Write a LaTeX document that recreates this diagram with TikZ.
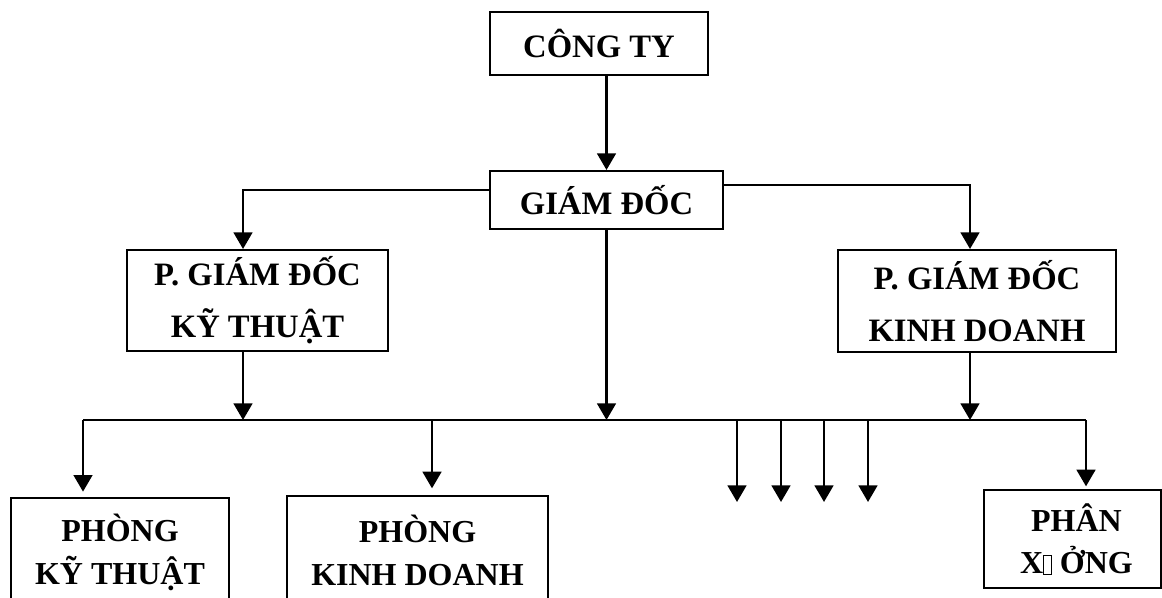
\documentclass[tikz,border=0pt]{standalone}
\usepackage{fontspec}
\setmainfont{Liberation Serif}
\usetikzlibrary{arrows.meta}
\newcommand{\tofu}{{\fboxsep=0pt\fboxrule=0.6pt\fbox{\rule{0pt}{0.55em}\hspace{0.22em}}}}

\begin{document}
\begin{tikzpicture}[x=0.75pt,y=-0.75pt]
	\tikzstyle{every node}=[font=\bfseries\fontsize{24.5}{39}\selectfont];
	\tikzstyle{unit}=[draw,rectangle,align=center,inner sep=0pt,line width=1.5pt];
	\tikzstyle{dept}=[unit,font=\bfseries\fontsize{24}{32}\selectfont];
	\tikzstyle{lnk}=[draw,line width=2pt,-{Triangle[width=14pt,length=12.5pt]}];
	\tikzstyle{bus}=[draw,line width=1.8pt];
	\path[use as bounding box,clip] (0,0) rectangle (1162,597);
	% boxes
	\node (cty) [unit,minimum width=163.5pt,minimum height=47.25pt] at (599,43.5) {CÔNG TY};
	\node (gd) [unit,minimum width=174.75pt,minimum height=43.5pt] at (606.5,200) {GIÁM ĐỐC};
	\node (pgkt) [unit,minimum width=195.75pt,minimum height=75.75pt] at (257.5,300.5) {P. GIÁM ĐỐC\\KỸ THUẬT};
	\node (pgkd) [unit,minimum width=208.5pt,minimum height=76.5pt] at (977,301) {P. GIÁM ĐỐC\\KINH DOANH};
	\node (pkt) [dept,minimum width=163.5pt,minimum height=81.75pt] at (120,552.5) {PHÒNG\\KỸ THUẬT};
	\node (pkd) [dept,minimum width=195.75pt,minimum height=81.75pt] at (417.5,550.5) {PHÒNG\\KINH DOANH};
	\node (px) [dept,minimum width=132.75pt,minimum height=73.5pt] at (1072.5,539) {\hspace*{6pt}PHÂN\\\hspace*{6pt}X\tofu\ ỞNG};
	% tap points
	\coordinate (lvlA) at (243,190);
	\coordinate (lvlB) at (970,185);
	\coordinate (busL) at (83,420);
	\coordinate (busR) at (1086,420);
	\coordinate (tapKD) at (432,420);
	% links
	\draw[lnk] (gd.north |- cty.south) -- (gd.north);
	\draw[lnk] (gd.west |- lvlA) -| (lvlA |- pgkt.north);
	\draw[lnk] (gd.east |- lvlB) -| (lvlB |- pgkd.north);
	\draw[lnk] (gd.south) -- (gd.south |- busL);
	\draw[lnk] (pgkt.south -| lvlA) -- (lvlA |- busL);
	\draw[lnk] (pgkd.south -| lvlB) -- (lvlB |- busL);
	\draw[bus] (busL) -- (busR);
	\draw[lnk,shorten >=4pt] (busL) -- (busL |- pkt.north);
	\draw[lnk,shorten >=5pt] (tapKD) -- (tapKD |- pkd.north);
	\draw[lnk,shorten >=2pt] (busR) -- (busR |- px.north);
	\foreach \x [count=\i] in {737,781,824,868}{
		\coordinate (tap\i) at (\x,420);
		\coordinate (end\i) at (\x,502);
		\draw[lnk] (tap\i) -- (end\i);
	}
\end{tikzpicture}
\end{document}
